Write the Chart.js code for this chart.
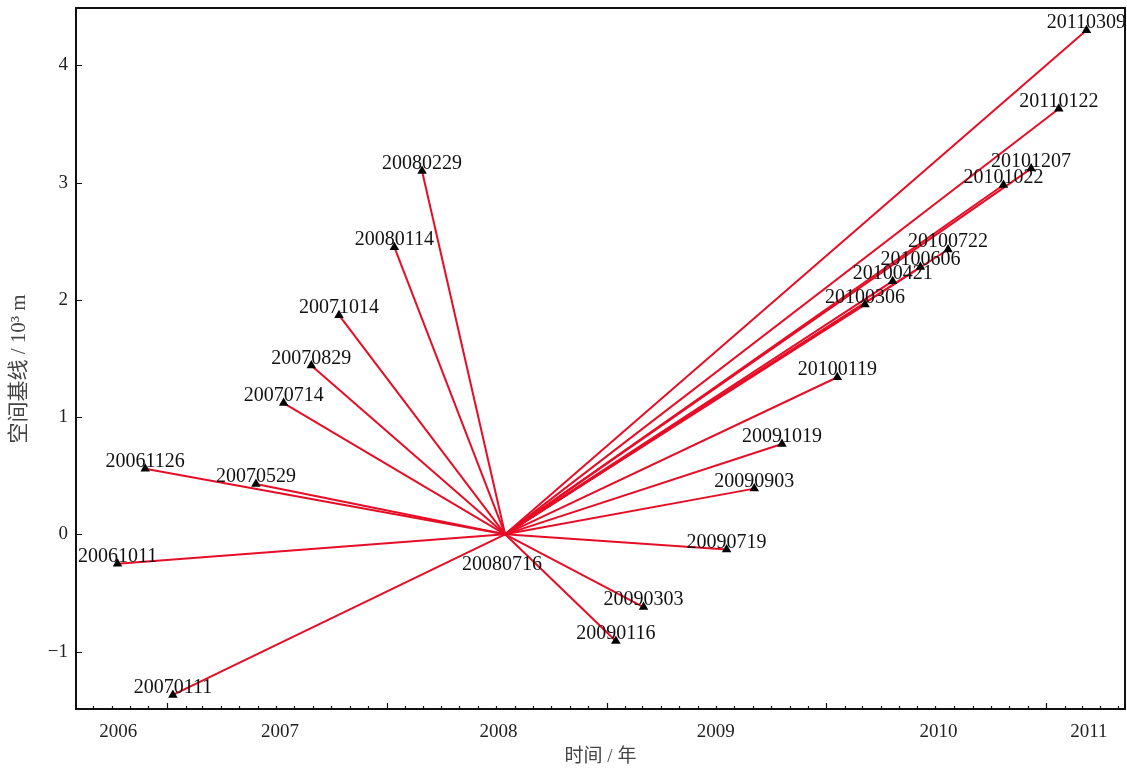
<!DOCTYPE html>
<html>
<head>
<meta charset="utf-8">
<title>空间基线</title>
<script src="https://cdn.jsdelivr.net/npm/chart.js@4.4.0/dist/chart.umd.min.js"></script>
<style>
	html, body { margin: 0; padding: 0; background: #fff; overflow: hidden; }
	#wrap { width: 1127px; height: 771px; position: relative; }
</style>
</head>
<body>
<div id="wrap"><canvas id="baselineChart"></canvas></div>
<script>
// master image and slave images (yyyymmdd), spatial baseline in 10^3 m
var masterDate = '20080716';
var slaveDates = ['20061011', '20061126', '20070111', '20070529', '20070714', '20070829', '20071014',
	'20080114', '20080229', '20090116', '20090303', '20090719', '20090903', '20091019', '20100119',
	'20100306', '20100421', '20100606', '20100722', '20101022', '20101207', '20110122', '20110309'];
var baselines = [-0.25, 0.56, -1.37, 0.43, 1.12, 1.44, 1.87,
	2.45, 3.10, -0.91, -0.62, -0.13, 0.39, 0.77, 1.34,
	1.96, 2.16, 2.28, 2.43, 2.98, 3.12, 3.63, 4.30];

// axis ticks
var yTicks = [-1, 0, 1, 2, 3, 4];
var xTickDates = ['20061012', '20070708', '20080705', '20090701', '20100706', '20110313'];
var xTickLabels = ['2006', '2007', '2008', '2009', '2010', '2011'];
var xRange = ['20060803', '20110512'];
var yRange = [-1.49, 4.49];

function toDay(s) {
	var y = parseInt(s.slice(0, 4), 10);
	var m = parseInt(s.slice(4, 6), 10) - 1;
	var d = parseInt(s.slice(6, 8), 10);
	return Date.UTC(y, m, d) / 86400000;
}

var masterX = toDay(masterDate);
var pointData = slaveDates.map(function(d, i) { return { x: toDay(d), y: baselines[i] }; });

var datasets = [{
	label: 'images',
	data: pointData,
	showLine: false,
	pointStyle: 'triangle',
	pointRadius: 5.5,
	pointBackgroundColor: '#000',
	pointBorderColor: '#000',
	pointBorderWidth: 0,
	order: 0
}];
pointData.forEach(function(p) {
	datasets.push({
		data: [{ x: masterX, y: 0 }, p],
		showLine: true,
		borderColor: '#e60d26',
		borderWidth: 2,
		pointRadius: 0,
		order: 1
	});
});

var serif = '"Liberation Serif", "Times New Roman", serif';
var cjk = '"Liberation Serif", "Noto Sans CJK SC", serif';

// black frame, inward tick marks and date labels
var decorPlugin = {
	id: 'decor',
	afterDatasetsDraw: function(chart) {
		var ctx = chart.ctx;
		var area = chart.chartArea;
		var xs = chart.scales.x, ys = chart.scales.y;
		ctx.save();
		ctx.strokeStyle = '#111';
		ctx.lineWidth = 1.2;
		ctx.beginPath();
		// monthly ticks, longer at january
		for (var y = 2006; y <= 2011; y++) {
			for (var m = 0; m < 12; m++) {
				var v = Date.UTC(y, m, 1) / 86400000;
				if (v <= xs.min || v >= xs.max) continue;
				var px = Math.round(xs.getPixelForValue(v)) + 0.5;
				var len = m === 0 ? 6 : 3;
				ctx.moveTo(px, area.bottom);
				ctx.lineTo(px, area.bottom - len);
			}
		}
		yTicks.forEach(function(t) {
			var py = Math.round(ys.getPixelForValue(t)) + 0.5;
			ctx.moveTo(area.left, py);
			ctx.lineTo(area.left + 6, py);
		});
		ctx.stroke();
		ctx.lineWidth = 2;
		ctx.strokeRect(area.left, area.top, area.right - area.left, area.bottom - area.top);

		ctx.fillStyle = '#111';
		ctx.font = '20px ' + serif;
		ctx.textAlign = 'center';
		ctx.textBaseline = 'alphabetic';
		var meta = chart.getDatasetMeta(0);
		meta.data.forEach(function(el, i) {
			ctx.fillText(slaveDates[i], el.x, el.y - 2);
		});
		ctx.fillText(masterDate, xs.getPixelForValue(masterX) - 3, ys.getPixelForValue(0) + 36);
		ctx.restore();
	}
};

new Chart(document.getElementById('baselineChart'), {
	type: 'scatter',
	data: { datasets: datasets },
	plugins: [decorPlugin],
	options: {
		responsive: true,
		maintainAspectRatio: false,
		animation: false,
		layout: { autoPadding: false, padding: { left: 0, right: 2, top: 8, bottom: 0 } },
		plugins: { legend: { display: false }, tooltip: { enabled: false } },
		scales: {
			x: {
				type: 'linear',
				min: toDay(xRange[0]),
				max: toDay(xRange[1]),
				grid: { display: false },
				border: { display: false },
				afterBuildTicks: function(scale) {
					scale.ticks = xTickDates.map(function(d) { return { value: toDay(d) }; });
				},
				afterFit: function(scale) {
					scale.height = 62;
					scale.paddingLeft = 0;
					scale.paddingRight = 0;
				},
				ticks: {
					autoSkip: false,
					maxRotation: 0,
					padding: 4,
					color: '#222',
					font: { family: serif, size: 19 },
					callback: function(value, index) { return xTickLabels[index]; }
				},
				title: {
					display: true,
					text: '时间 / 年',
					color: '#444',
					font: { family: cjk, size: 19 },
					padding: { top: 0, bottom: 3 }
				}
			},
			y: {
				min: yRange[0],
				max: yRange[1],
				grid: { display: false },
				border: { display: false },
				afterBuildTicks: function(scale) {
					scale.ticks = yTicks.map(function(v) { return { value: v }; });
				},
				afterFit: function(scale) {
					scale.width = 76;
					scale.paddingTop = 0;
					scale.paddingBottom = 0;
				},
				ticks: {
					padding: 0,
					color: '#222',
					font: { family: serif, size: 19 },
					callback: function(value) { return value < 0 ? '\u2212' + Math.abs(value) : String(value); }
				},
				title: {
					display: true,
					// trailing em space pushes the text a little below the axis centre, as in the original
					text: '空间基线 / 10³ m\u2003',
					color: '#444',
					font: { family: cjk, size: 21 },
					padding: { top: 7, bottom: 0 }
				}
			}
		}
	}
});
</script>
</body>
</html>
